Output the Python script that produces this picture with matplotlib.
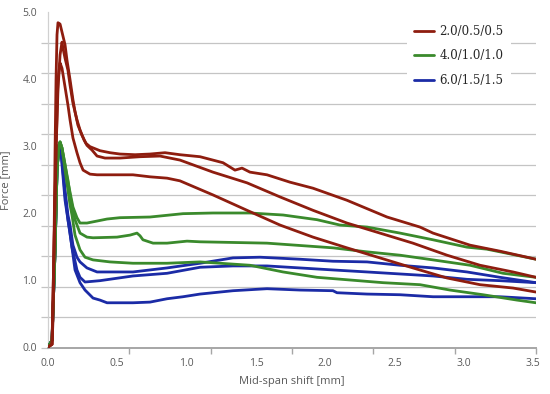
import numpy as np
import matplotlib
matplotlib.use("Agg")
import matplotlib.pyplot as plt
from matplotlib.ticker import FixedLocator

# ---- data (mid-span shift [mm], force) ----
labels = ["2.0/0.5/0.5", "4.0/1.0/1.0", "6.0/1.5/1.5"]
colors = ["#8e1d0f", "#3a8a2c", "#1b2ba6"]

r1_x = [0, 0.029, 0.036, 0.043, 0.051, 0.058, 0.065, 0.072, 0.087, 0.101, 0.123, 0.137, 0.159, 0.180, 0.195,
        0.216, 0.245, 0.274, 0.303, 0.375, 0.447, 0.519, 0.628, 0.736, 0.844, 0.952, 1.097, 1.263, 1.349, 1.400,
        1.457, 1.580, 1.746, 1.912, 2.157, 2.446, 2.684, 2.778, 3.045, 3.261, 3.521]
r1_y = [0, 0.04, 0.40, 1.45, 2.94, 3.99, 4.66, 4.84, 4.82, 4.70, 4.51, 4.28, 3.99, 3.69, 3.51,
        3.31, 3.16, 3.04, 2.99, 2.93, 2.90, 2.88, 2.87, 2.88, 2.90, 2.87, 2.84, 2.75, 2.64, 2.67,
        2.61, 2.57, 2.46, 2.37, 2.19, 1.94, 1.79, 1.70, 1.52, 1.43, 1.31]

r2_x = [0, 0.029, 0.043, 0.058, 0.072, 0.087, 0.101, 0.108, 0.123, 0.144, 0.159, 0.180, 0.209, 0.231, 0.260,
        0.281, 0.317, 0.354, 0.411, 0.519, 0.664, 0.808, 0.952, 1.190, 1.436, 1.674, 1.912, 2.157, 2.395, 2.633,
        2.879, 3.117, 3.355, 3.521]
r2_y = [0, 0.04, 1.45, 2.94, 3.84, 4.36, 4.55, 4.46, 4.31, 4.13, 3.91, 3.64, 3.39, 3.24, 3.09,
        3.01, 2.94, 2.85, 2.82, 2.82, 2.84, 2.85, 2.79, 2.61, 2.45, 2.24, 2.04, 1.85, 1.70, 1.55,
        1.37, 1.22, 1.12, 1.04]

r3_x = [0, 0.029, 0.043, 0.058, 0.072, 0.087, 0.101, 0.123, 0.144, 0.159, 0.180, 0.209, 0.231, 0.253, 0.303,
        0.354, 0.447, 0.613, 0.736, 0.859, 0.952, 1.190, 1.436, 1.674, 1.912, 2.157, 2.395, 2.633, 2.879, 3.117,
        3.355, 3.521]
r3_y = [0, 0.04, 1.45, 2.94, 3.99, 4.24, 4.16, 3.88, 3.61, 3.39, 3.12, 2.90, 2.75, 2.64, 2.58,
        2.57, 2.57, 2.57, 2.54, 2.52, 2.48, 2.27, 2.04, 1.82, 1.64, 1.48, 1.33, 1.18, 1.03, 0.93,
        0.88, 0.82]

g1_x = [0, 0.029, 0.051, 0.065, 0.079, 0.087, 0.101, 0.123, 0.137, 0.159, 0.180, 0.209, 0.231, 0.281, 0.354,
        0.426, 0.519, 0.736, 0.974, 1.190, 1.457, 1.696, 1.941, 2.107, 2.302, 2.540, 2.778, 3.023, 3.167, 3.333,
        3.521]
g1_y = [0, 0.10, 1.45, 2.64, 3.01, 3.06, 2.97, 2.72, 2.54, 2.31, 2.09, 1.93, 1.85, 1.85, 1.88,
        1.91, 1.93, 1.94, 1.99, 2.00, 2.00, 1.97, 1.90, 1.82, 1.79, 1.70, 1.60, 1.49, 1.46, 1.39,
        1.31]

g2_x = [0, 0.029, 0.051, 0.065, 0.079, 0.087, 0.101, 0.123, 0.144, 0.159, 0.180, 0.195, 0.231, 0.281, 0.325,
        0.498, 0.592, 0.642, 0.664, 0.685, 0.758, 0.859, 1.003, 1.097, 1.580, 2.056, 2.302, 2.540, 2.778, 3.045,
        3.283, 3.521]
g2_y = [0, 0.10, 1.45, 2.64, 3.01, 3.06, 2.97, 2.72, 2.49, 2.27, 2.04, 1.90, 1.70, 1.64, 1.63,
        1.64, 1.67, 1.70, 1.66, 1.60, 1.55, 1.55, 1.58, 1.57, 1.55, 1.48, 1.42, 1.37, 1.30, 1.22,
        1.10, 1.04]

g3_x = [0, 0.029, 0.051, 0.065, 0.079, 0.087, 0.101, 0.123, 0.144, 0.159, 0.173, 0.195, 0.231, 0.267, 0.325,
        0.447, 0.613, 0.859, 1.097, 1.457, 1.696, 1.941, 2.179, 2.417, 2.684, 2.900, 3.139, 3.384, 3.521]
g3_y = [0, 0.10, 1.45, 2.64, 3.01, 3.06, 2.97, 2.64, 2.34, 2.12, 1.97, 1.67, 1.45, 1.34, 1.30,
        1.27, 1.25, 1.25, 1.27, 1.22, 1.12, 1.04, 1.00, 0.96, 0.93, 0.85, 0.78, 0.70, 0.66]

b1_x = [0, 0.029, 0.051, 0.065, 0.079, 0.087, 0.101, 0.123, 0.144, 0.159, 0.180, 0.209, 0.231, 0.281, 0.354,
        0.426, 0.613, 0.859, 1.097, 1.335, 1.530, 1.818, 2.056, 2.302, 2.540, 2.778, 3.023, 3.261, 3.521]
b1_y = [0, 0.10, 1.45, 2.64, 3.01, 3.04, 2.87, 2.34, 1.97, 1.82, 1.52, 1.34, 1.27, 1.18, 1.12,
        1.12, 1.12, 1.18, 1.25, 1.33, 1.34, 1.31, 1.28, 1.27, 1.22, 1.18, 1.12, 1.04, 0.96]

b2_x = [0, 0.029, 0.051, 0.065, 0.079, 0.087, 0.101, 0.123, 0.144, 0.173, 0.209, 0.231, 0.267, 0.375, 0.613,
        0.859, 1.097, 1.335, 1.580, 1.818, 2.056, 2.302, 2.540, 2.778, 3.023, 3.261, 3.521]
b2_y = [0, 0.10, 1.45, 2.64, 3.01, 3.04, 2.79, 2.27, 1.90, 1.49, 1.15, 1.04, 0.97, 0.99, 1.06,
        1.10, 1.19, 1.21, 1.21, 1.18, 1.15, 1.12, 1.09, 1.06, 1.01, 0.99, 0.96]

b3_x = [0, 0.029, 0.051, 0.065, 0.079, 0.087, 0.101, 0.123, 0.144, 0.159, 0.195, 0.231, 0.267, 0.325, 0.375,
        0.426, 0.613, 0.736, 0.859, 0.974, 1.097, 1.335, 1.580, 1.818, 2.056, 2.085, 2.302, 2.540, 2.778, 3.023,
        3.261, 3.521]
b3_y = [0, 0.10, 1.45, 2.64, 3.01, 3.04, 2.72, 2.19, 1.90, 1.70, 1.15, 0.96, 0.85, 0.73, 0.70,
        0.66, 0.66, 0.67, 0.72, 0.75, 0.79, 0.84, 0.87, 0.85, 0.84, 0.81, 0.79, 0.78, 0.75, 0.75,
        0.75, 0.72]

x_ticks = [0.0, 0.5, 1.0, 1.5, 2.0, 2.5, 3.0, 3.5]
y_ticks = [0.0, 1.0, 2.0, 3.0, 4.0, 5.0]

groups = [
    [(r1_x, r1_y), (r2_x, r2_y), (r3_x, r3_y)],
    [(g1_x, g1_y), (g2_x, g2_y), (g3_x, g3_y)],
    [(b1_x, b1_y), (b2_x, b2_y), (b3_x, b3_y)],
]

# ---- figure ----
plt.rcParams['font.family'] = ['Open Sans', 'DejaVu Sans']
fig = plt.figure(figsize=(5.5, 3.94), dpi=100)
ax = fig.add_axes([48/550, 1-348/394, (536-48)/550, (348-12)/394])

xmin, xmax = 0.0, 3.521
ymin, ymax = -0.015, 5.0
ax.set_xlim(xmin, xmax)
ax.set_ylim(ymin, ymax)

grid_c = "#c4c4c4"
handles = [None, None, None]
# draw order: blue, green, red (red on top)
for gi in [2, 1, 0]:
    for k, (xs, ys) in enumerate(groups[gi]):
        ln, = ax.plot(xs, ys, color=colors[gi], lw=2.0, solid_joinstyle='round',
                      solid_capstyle='round', zorder=3 + (2 - gi))
        if k == 0:
            handles[gi] = ln

# y: labels at integers, gridlines at 11 equal intervals
ax.yaxis.set_major_locator(FixedLocator(y_ticks))
ax.set_yticklabels([f"{v:.1f}" for v in y_ticks])
ax.yaxis.set_minor_locator(FixedLocator(np.linspace(ymin, ymax, 12)))
ax.tick_params(axis='y', which='major', length=0, pad=8, labelsize=7.5, labelcolor="#595959")
ax.tick_params(axis='y', which='minor', length=5, width=0.9, color=grid_c)
ax.grid(axis='y', which='minor', color=grid_c, lw=0.9, zorder=0)
ax.grid(axis='y', which='major', visible=False)

# x: labels at 0.5 steps, tick marks at 6 equal intervals
ax.xaxis.set_major_locator(FixedLocator(x_ticks))
ax.set_xticklabels([f"{v:.1f}" for v in x_ticks])
ax.xaxis.set_minor_locator(FixedLocator(np.linspace(xmin, xmax, 7)))
ax.tick_params(axis='x', which='major', length=0, pad=7, labelsize=7.5, labelcolor="#595959")
ax.tick_params(axis='x', which='minor', length=4, width=1.0, color="#a6a6a6")

for s in ['top', 'right']:
    ax.spines[s].set_visible(False)
ax.spines['left'].set_color("#d0d0d0")
ax.spines['left'].set_linewidth(0.9)
ax.spines['bottom'].set_color("#a6a6a6")
ax.spines['bottom'].set_linewidth(1.4)
ax.set_axisbelow(True)

ax.set_xlabel("Mid-span shift [mm]", fontsize=8, color="#595959", labelpad=5)
ax.set_ylabel("Force [mm]", fontsize=8, color="#595959", labelpad=8)

leg = ax.legend(handles, labels, loc='center', bbox_to_anchor=(459/550, 1-56/394),
                bbox_transform=fig.transFigure,
                frameon=True, fancybox=False, edgecolor='white', framealpha=1.0,
                prop={'family': 'DejaVu Serif', 'size': 8.5},
                handlelength=1.7, handletextpad=0.45, labelspacing=0.95, borderpad=0.6)
leg.get_frame().set_linewidth(0)
for t in leg.get_texts():
    t.set_color("#262626")
leg.set_zorder(10)

fig.savefig("out.png", dpi=100)
